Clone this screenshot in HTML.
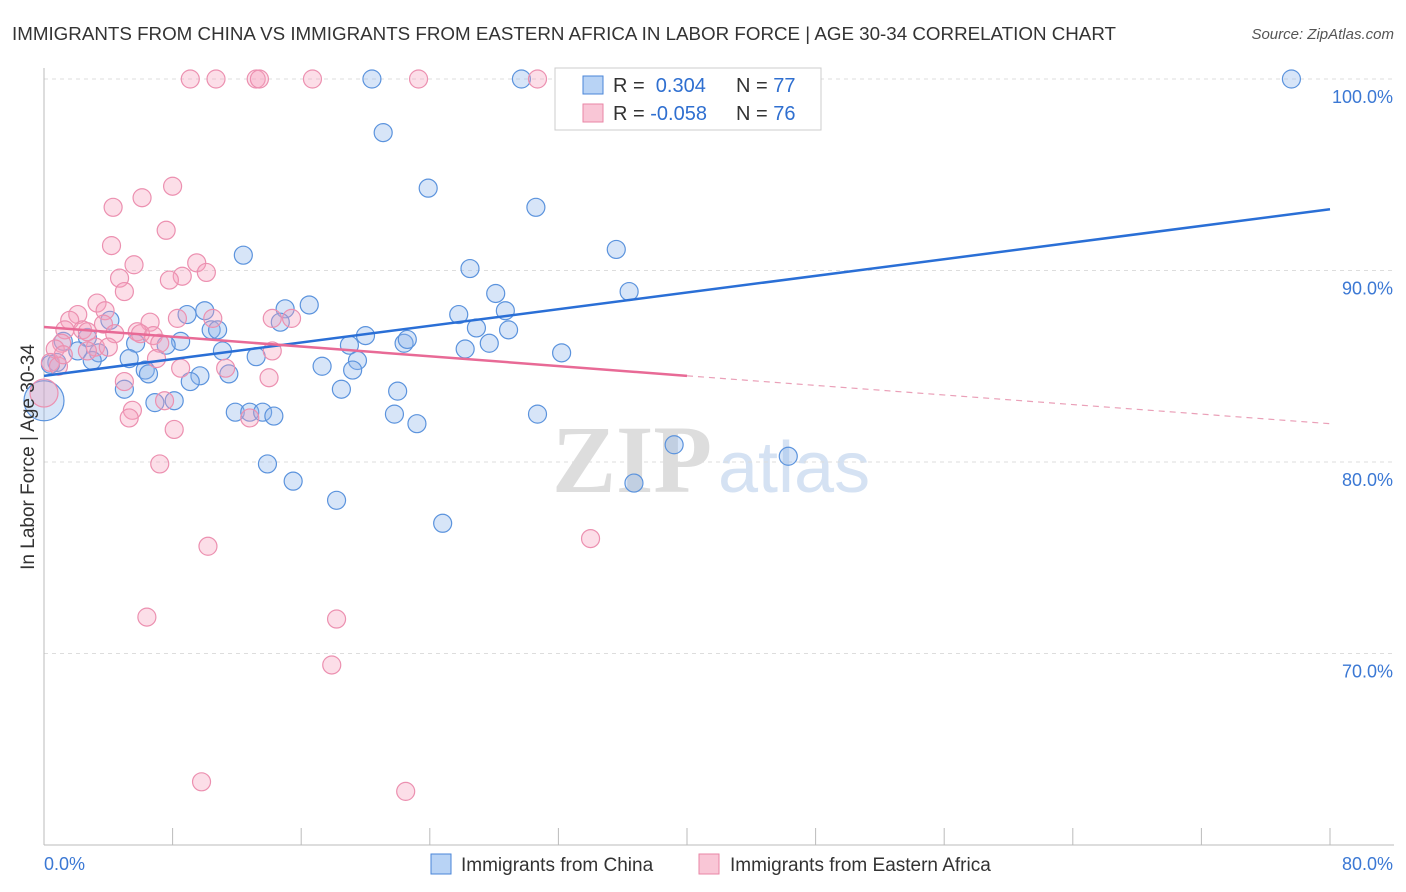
<!DOCTYPE html>
<html><head><meta charset="utf-8"><style>
body{margin:0;background:#fff;font-family:"Liberation Sans",sans-serif}
</style></head><body>
<svg id="chart" width="1406" height="892" xmlns="http://www.w3.org/2000/svg" style="display:block">
<text x="12" y="40" font-size="18" fill="#333" textLength="1104" lengthAdjust="spacingAndGlyphs">IMMIGRANTS FROM CHINA VS IMMIGRANTS FROM EASTERN AFRICA IN LABOR FORCE | AGE 30-34 CORRELATION CHART</text>
<text x="1394" y="39" font-size="15" fill="#555" text-anchor="end" font-style="italic">Source: ZipAtlas.com</text>
<g>
<text x="552" y="492" font-size="96" fill="#ddd" font-family="Liberation Serif,serif" font-weight="bold">ZIP</text>
<text x="718" y="492" font-size="72" fill="#d5e2f3">atlas</text>
</g>
<g id="grid"></g><g id="axes"></g><g id="pts"></g><g id="lines"></g>
<text transform="translate(34,457) rotate(-90)" font-size="19" fill="#333" text-anchor="middle">In Labor Force | Age 30-34</text>
<g>
<rect x="555" y="68" width="266" height="62" fill="#fff" stroke="#ccc"/>
<rect x="583" y="76" width="20" height="18" fill="#b8d3f5" stroke="#4a86d8"/>
<rect x="583" y="104" width="20" height="18" fill="#f9c6d6" stroke="#e986a6"/>
<text x="613" y="92" font-size="20" fill="#333">R = <tspan fill="#2f6fd0">&#160;0.304</tspan></text>
<text x="736" y="92" font-size="20" fill="#333">N = <tspan fill="#2f6fd0">77</tspan></text>
<text x="613" y="120" font-size="20" fill="#333">R = <tspan fill="#2f6fd0">-0.058</tspan></text>
<text x="736" y="120" font-size="20" fill="#333">N = <tspan fill="#2f6fd0">76</tspan></text>
</g>
<g>
<rect x="431" y="854" width="20" height="20" fill="#b8d3f5" stroke="#4a86d8"/>
<text x="461" y="871" font-size="19" fill="#333">Immigrants from China</text>
<rect x="699" y="854" width="20" height="20" fill="#f9c6d6" stroke="#e986a6"/>
<text x="730" y="871" font-size="19" fill="#333">Immigrants from Eastern Africa</text>
</g>
</svg>
<script>
const xTicks=[0,8,16,24,32,40,48,56,64,72,80];
const yTicks=[70,80,90,100];
const chinaX=[20.4,29.7,33.0,77.6,21.1,23.9,30.6,35.6,12.4,26.5,36.4,28.1,16.5,15.0,10.0,8.9,25.8,28.7,14.7,26.9,10.4,10.8,28.9,20.0,4.1,2.7,1.2,8.5,5.7,7.6,2.1,3.4,19.0,22.4,22.6,27.7,26.2,32.2,11.1,13.2,5.3,3.0,0.8,0.4,19.5,17.3,6.3,6.5,9.7,11.5,9.1,19.2,5.0,18.5,22.0,8.1,6.9,11.9,12.8,13.6,14.3,21.8,23.2,30.7,0,39.2,13.9,46.3,15.5,36.7,18.2,24.8];
const chinaY=[100,100,100,100,97.2,94.3,93.3,91.1,90.8,90.1,88.9,88.8,88.2,88.0,87.9,87.7,87.7,87.9,87.3,87.0,86.9,86.9,86.9,86.6,87.4,86.5,86.3,86.3,86.2,86.1,85.8,85.7,86.1,86.2,86.4,86.2,85.9,85.7,85.8,85.5,85.4,85.3,85.2,85.1,85.3,85.0,84.8,84.6,84.5,84.6,84.2,84.8,83.8,83.8,83.7,83.2,83.1,82.6,82.6,82.6,82.4,82.5,82.0,82.5,83.2,80.9,79.9,80.3,79.0,78.9,78.0,76.8];
const chinaR=chinaX.map((v,i)=>i==64?20:9);
const africaX=[9.1,10.7,13.2,13.4,16.7,23.3,30.7,8.0,6.1,4.3,7.6,4.2,5.6,9.5,8.6,10.1,4.7,5.0,7.8,3.3,2.1,1.6,3.8,8.3,10.5,14.2,15.4,6.6,3.7,2.4,1.3,2.7,5.8,6.0,6.8,4.4,1.1,7.2,3.2,4.0,2.7,14.2,0.7,7.0,0.4,0.9,8.5,11.3,14.0,5.0,7.5,5.5,5.3,12.8,8.1,7.2,10.2,34.0,6.4,18.2,17.9,9.8,22.5,0,1.2];
const africaY=[100,100,100,100,100,100,100,94.4,93.8,93.3,92.1,91.3,90.3,90.4,89.7,89.9,89.6,88.9,89.5,88.3,87.7,87.4,87.9,87.5,87.5,87.5,87.5,87.3,87.2,86.9,86.9,86.8,86.8,86.7,86.6,86.7,86.2,86.2,86.0,86.0,85.8,85.8,85.9,85.4,85.2,85.0,84.9,84.9,84.4,84.2,83.2,82.7,82.3,82.3,81.7,79.9,75.6,76.0,71.9,71.8,69.4,63.3,62.8,83.6,85.6];
const africaR=africaX.map((v,i)=>i==63?14:9);
const chinaTrend=[84.5,93.2];
const africaTrend=[87.05,84.5,82.0];
const X=v=>44+v*1286/80, Y=v=>79+(100-v)*19.15;
const NS='http://www.w3.org/2000/svg';
function mk(p,t,a){const e=document.createElementNS(NS,t);for(const k in a)e.setAttribute(k,a[k]);p.appendChild(e);return e;}
const g=document.getElementById('grid'),ax=document.getElementById('axes'),pts=document.getElementById('pts'),ln=document.getElementById('lines');
yTicks.forEach(v=>{const l=mk(g,'line',{x1:44,x2:1394,y1:Y(v),y2:Y(v),stroke:'#ddd','stroke-dasharray':'4,4'});


const t=mk(ax,'text',{x:1393,y:Y(v)+24,'font-size':18,fill:'#3b78d4','text-anchor':'end'});t.textContent=v.toFixed(1)+'%';

});
const ya=mk(ax,'line',{x1:44,x2:44,y1:68,y2:845,stroke:'#bbb'});


const xa=mk(ax,'line',{x1:44,x2:1394,y1:845,y2:845,stroke:'#bbb'});


xTicks.forEach(v=>{const l=mk(ax,'line',{x1:X(v),x2:X(v),y1:828,y2:845,stroke:'#bbb'});

});
[[0,'start','0.0%'],[80,'end','80.0%']].forEach(([v,a,s])=>{const t=mk(ax,'text',{x:v==0?44:1393,y:870,'font-size':18,fill:'#3b78d4','text-anchor':a});t.textContent=s;

});
chinaX.forEach((v,i)=>{const c=mk(pts,'circle',{cx:X(v),cy:Y(chinaY[i]),r:chinaR[i],fill:'rgba(140,180,235,0.35)',stroke:'#5b93dd','stroke-width':1.2});

});
africaX.forEach((v,i)=>{const c=mk(pts,'circle',{cx:X(v),cy:Y(africaY[i]),r:africaR[i],fill:'rgba(245,160,190,0.35)',stroke:'#ec90b0','stroke-width':1.2});

});
const b=mk(ln,'line',{x1:X(0),y1:Y(chinaTrend[0]),x2:X(80),y2:Y(chinaTrend[1]),stroke:'#2a6fd6','stroke-width':2.5});


const p1=mk(ln,'line',{x1:X(0),y1:Y(africaTrend[0]),x2:X(40),y2:Y(africaTrend[1]),stroke:'#e86a96','stroke-width':2.5});


const p2=mk(ln,'line',{x1:X(40),y1:Y(africaTrend[1]),x2:X(80),y2:Y(africaTrend[2]),stroke:'#eaa0b8','stroke-width':1.2,'stroke-dasharray':'6,5'});


</script>
</body></html>
